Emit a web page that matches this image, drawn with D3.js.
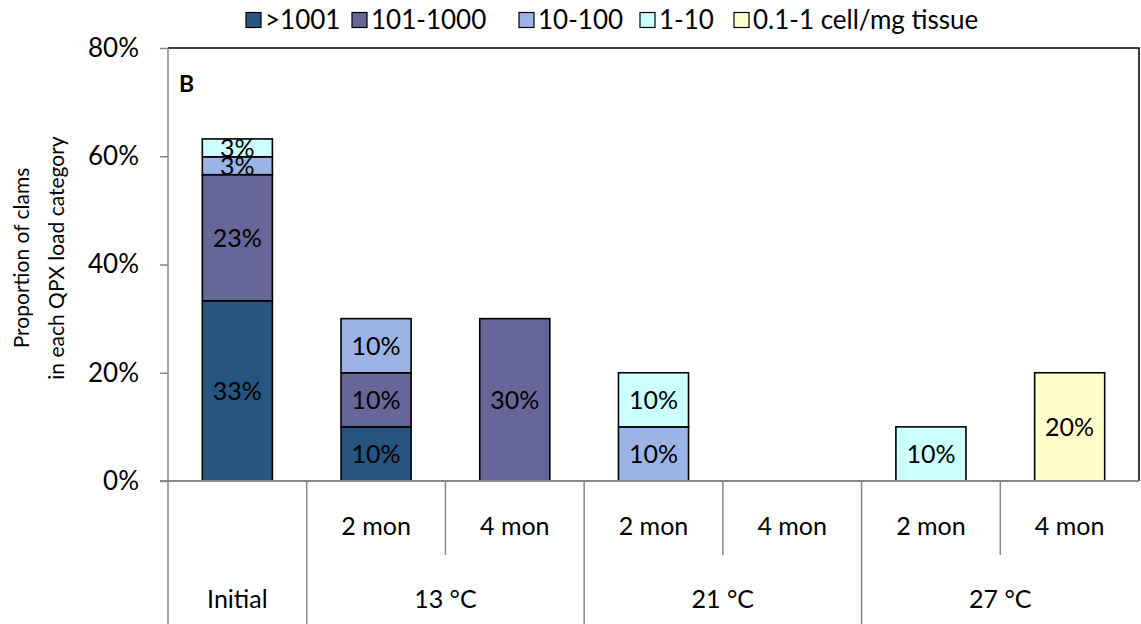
<!DOCTYPE html>
<html>
<head>
<meta charset="utf-8">
<script src="https://cdn.jsdelivr.net/npm/d3@7"></script>
<style>
  html, body { margin: 0; padding: 0; background: #fff; }
  svg { display: block; font-family: "Lato", "Open Sans", sans-serif; }
</style>
</head>
<body>
<svg id="chart" width="1141" height="624"></svg>
<script>
// Load categories (stack order, bottom to top)
const loadCategories = [">1001", "101-1000", "10-100", "1-10", "0.1-1 cell/mg tissue"];
const loadColors = ["#285480", "#666699", "#9BB3E5", "#CCFFFF", "#FFFFCC"];

// Sampling points along the x axis
const timepoints = ["Initial", "2 mon", "4 mon", "2 mon", "4 mon", "2 mon", "4 mon"];
const temperatureGroups = [
  { label: "Initial", span: 1 },
  { label: "13 °C", span: 2 },
  { label: "21 °C", span: 2 },
  { label: "27 °C", span: 2 }
];

// Proportion (%) of clams in each load category, one array per category
const gt1001     = [33.3, 10, 0, 0, 0, 0, 0];
const c101_1000  = [23.3, 10, 30, 0, 0, 0, 0];
const c10_100    = [3.3, 10, 0, 10, 0, 0, 0];
const c1_10      = [3.3, 0, 0, 10, 0, 10, 0];
const c01_1      = [0, 0, 0, 0, 0, 0, 20];

const yTicks = [0, 20, 40, 60, 80];

const seriesValues = [gt1001, c101_1000, c10_100, c1_10, c01_1];

const svg = d3.select("#chart");
const W = 1141, H = 624;
const margin = { left: 168, right: 2, top: 48, bottom: 143 };
const plotBottom = H - margin.bottom;
const FS = 25;

const x = d3.scaleBand()
  .domain(d3.range(timepoints.length))
  .range([margin.left, W - margin.right])
  .paddingInner(0.495)
  .paddingOuter(0.2475);

const y = d3.scaleLinear().domain([0, 80]).range([plotBottom, margin.top]);

// Stack rows
const rows = timepoints.map((t, i) => {
  const r = { idx: i };
  loadCategories.forEach((c, k) => { r[c] = seriesValues[k][i]; });
  return r;
});
const stacked = d3.stack().keys(loadCategories)(rows);

// Plot frame: black top and right edges
svg.append("path")
  .attr("d", `M${margin.left},${margin.top}H${W - margin.right}V${plotBottom}`)
  .attr("fill", "none").attr("stroke", "#000").attr("stroke-width", 1.5);

// Y axis
const yAxis = svg.append("g")
  .attr("transform", `translate(${margin.left},0)`)
  .call(d3.axisLeft(y).tickValues(yTicks).tickSize(8).tickPadding(21)
    .tickFormat(d => d + "%"));
yAxis.select(".domain").remove();
yAxis.selectAll(".tick line").attr("stroke", "#868686").attr("stroke-width", 1.5);
yAxis.selectAll(".tick text").attr("font-size", FS + 1).attr("fill", "#000")
  .attr("font-family", "Lato, sans-serif");

// Bars
const layer = svg.append("g").selectAll("g").data(stacked).join("g")
  .attr("fill", (d, k) => loadColors[k]);

layer.selectAll("rect").data(d => d.filter(s => s[1] - s[0] > 0)).join("rect")
  .attr("x", d => x(d.data.idx))
  .attr("width", x.bandwidth())
  .attr("y", d => y(d[1]))
  .attr("height", d => y(d[0]) - y(d[1]))
  .attr("stroke", "#000").attr("stroke-width", 1.6);

// Segment value labels
layer.selectAll("text").data(d => d.filter(s => s[1] - s[0] > 0)).join("text")
  .attr("x", d => x(d.data.idx) + x.bandwidth() / 2)
  .attr("y", d => (y(d[0]) + y(d[1])) / 2)
  .attr("dy", "0.36em")
  .attr("text-anchor", "middle")
  .attr("font-size", FS)
  .attr("fill", "#000")
  .text(d => d3.format(".0f")(d[1] - d[0]) + "%");

// Left axis line (extends down through the category table)
svg.append("line")
  .attr("x1", margin.left).attr("x2", margin.left)
  .attr("y1", margin.top).attr("y2", H)
  .attr("stroke", "#868686").attr("stroke-width", 1.5);

// Bottom axis line
svg.append("line")
  .attr("x1", margin.left - 8).attr("x2", W - margin.right)
  .attr("y1", plotBottom).attr("y2", plotBottom)
  .attr("stroke", "#868686").attr("stroke-width", 2);

// Category table: separators and labels
const step = x.step();
const slotLeft = i => margin.left + i * step;
let start = 0;
const groupBounds = temperatureGroups.map(g => {
  const b = { label: g.label, start, end: start + g.span };
  start += g.span;
  return b;
});

const tbl = svg.append("g");
groupBounds.forEach(g => {
  if (g.start > 0) {
    tbl.append("line")
      .attr("x1", slotLeft(g.start)).attr("x2", slotLeft(g.start))
      .attr("y1", plotBottom).attr("y2", H)
      .attr("stroke", "#868686").attr("stroke-width", 1.5);
  }
  for (let i = g.start + 1; i < g.end; i++) {
    tbl.append("line")
      .attr("x1", slotLeft(i)).attr("x2", slotLeft(i))
      .attr("y1", plotBottom).attr("y2", 555)
      .attr("stroke", "#868686").attr("stroke-width", 1.5);
  }
  tbl.append("text")
    .attr("x", (slotLeft(g.start) + slotLeft(g.end)) / 2)
    .attr("y", 599).attr("dy", "0.36em")
    .attr("text-anchor", "middle").attr("font-size", FS)
    .text(g.label);
});

timepoints.forEach((t, i) => {
  if (t === "Initial") return;
  tbl.append("text")
    .attr("x", x(i) + x.bandwidth() / 2)
    .attr("y", 526).attr("dy", "0.36em")
    .attr("text-anchor", "middle").attr("font-size", FS)
    .text(t);
});

// Panel letter
svg.append("text")
  .attr("x", 179).attr("y", 92)
  .attr("font-size", 23).attr("font-weight", "bold")
  .text("B");

// Y axis title
const yTitle = svg.append("text")
  .attr("transform", "translate(0,258) rotate(-90)")
  .attr("text-anchor", "middle").attr("font-size", 21);
yTitle.append("tspan").attr("x", 0).attr("y", 29).text("Proportion of clams");
yTitle.append("tspan").attr("x", 0).attr("y", 64).text("in each QPX load category");

// Legend
const legendX = [246, 352, 519, 640, 734];
const legend = svg.append("g");
loadCategories.forEach((c, k) => {
  const g = legend.append("g").attr("transform", `translate(${legendX[k]},20)`);
  g.append("rect")
    .attr("x", 0).attr("y", -7.5).attr("width", 15).attr("height", 15)
    .attr("fill", loadColors[k]).attr("stroke", "#000").attr("stroke-width", 1.2);
  g.append("text")
    .attr("x", 19).attr("y", 0).attr("dy", "0.36em")
    .attr("font-size", 26).text(c);
});
</script>
</body>
</html>
